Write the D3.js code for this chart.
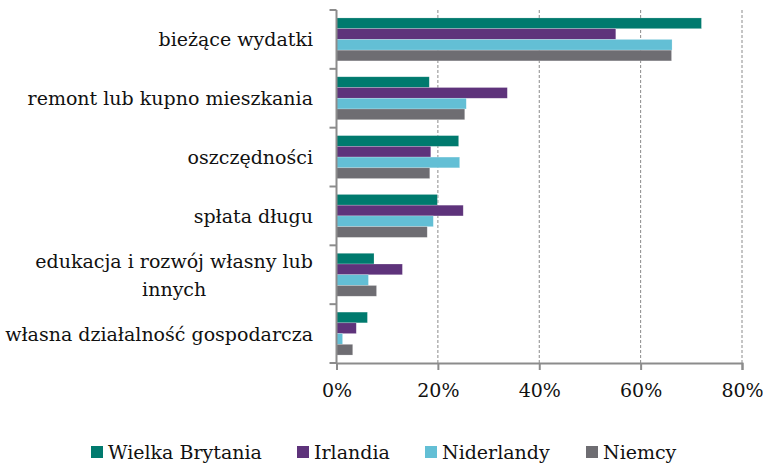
<!DOCTYPE html>
<html>
<head>
<meta charset="utf-8">
<script src="https://cdn.jsdelivr.net/npm/d3@7"></script>
<style>
  body { margin: 0; background: #fff; }
  text { font-family: "DejaVu Serif", "Liberation Serif", serif; fill: #111; }
</style>
</head>
<body>
<script>
// categories, top to bottom
var categories = [
  ["bieżące wydatki"],
  ["remont lub kupno mieszkania"],
  ["oszczędności"],
  ["spłata długu"],
  ["edukacja i rozwój własny lub", "innych"],
  ["własna działalność gospodarcza"]
];
var series = ["Wielka Brytania", "Irlandia", "Niderlandy", "Niemcy"];
var colors = ["#007a6e", "#5e337b", "#63bfd5", "#6e6d72"];

// percent values per series, same order as categories
var wielkaBrytania = [72.0, 18.3, 24.1, 19.9, 7.4, 6.1];
var irlandia       = [55.1, 33.7, 18.6, 25.0, 13.0, 3.9];
var niderlandy     = [66.2, 25.6, 24.3, 19.1, 6.3, 1.2];
var niemcy         = [66.1, 25.3, 18.4, 17.9, 7.9, 3.2];
var values = [wielkaBrytania, irlandia, niderlandy, niemcy];

var xTicks = [0, 20, 40, 60, 80];

var W = 763, H = 465;
var fs = 19;
var svg = d3.select("body").append("svg").attr("width", W).attr("height", H);

var x = d3.scaleLinear().domain([0, 80]).range([336.5, 742]);
var y = d3.scaleBand().domain(d3.range(categories.length)).range([10, 363])
  .paddingInner(0.27).paddingOuter(0.135);
var yOuter = d3.scaleBand().domain(d3.range(categories.length)).range([10, 363]);
var ySub = d3.scaleBand().domain(d3.range(series.length)).range([0, y.bandwidth()]);

// dashed gridlines
svg.append("g").selectAll("line")
  .data(xTicks.filter(function(d) { return d > 0; }))
  .enter().append("line")
  .attr("x1", function(d) { return x(d); })
  .attr("x2", function(d) { return x(d); })
  .attr("y1", 10).attr("y2", 363)
  .attr("stroke", "#8a8a8a")
  .attr("stroke-width", 1)
  .attr("stroke-dasharray", "3,2");

// bars
var group = svg.append("g").selectAll("g.cat")
  .data(categories)
  .enter().append("g")
  .attr("class", "cat")
  .attr("transform", function(d, i) { return "translate(0," + y(i) + ")"; });

group.selectAll("rect")
  .data(function(d, i) { return values.map(function(v, s) { return { s: s, v: v[i] }; }); })
  .enter().append("rect")
  .attr("x", x(0))
  .attr("y", function(d) { return ySub(d.s); })
  .attr("width", function(d) { return x(d.v) - x(0); })
  .attr("height", ySub.bandwidth())
  .attr("fill", function(d) { return colors[d.s]; })
  .attr("stroke", "#fff")
  .attr("stroke-opacity", 0.35)
  .attr("stroke-width", 0.6);

// left axis with ticks at category boundaries
var axisColor = "#8c8c8c";
svg.append("line")
  .attr("x1", x(0)).attr("x2", x(0)).attr("y1", 10).attr("y2", 363)
  .attr("stroke", axisColor).attr("stroke-width", 2);
svg.append("g").selectAll("line")
  .data(d3.range(categories.length + 1))
  .enter().append("line")
  .attr("x1", x(0) - 7).attr("x2", x(0))
  .attr("y1", function(i) { return i < categories.length ? yOuter(i) : 363; })
  .attr("y2", function(i) { return i < categories.length ? yOuter(i) : 363; })
  .attr("stroke", axisColor).attr("stroke-width", 2);

// bottom axis
var xAxis = svg.append("g")
  .attr("transform", "translate(0,363)")
  .call(d3.axisBottom(x).tickValues(xTicks).tickSize(7).tickPadding(14)
    .tickFormat(function(d) { return d + "%"; }));
xAxis.select(".domain").attr("stroke", axisColor).attr("stroke-width", 2);
xAxis.selectAll(".tick line").attr("stroke", axisColor).attr("stroke-width", 2);
xAxis.selectAll(".tick text")
  .style("font-family", "'DejaVu Serif', serif")
  .style("font-size", fs + "px").attr("fill", "#111");

// category labels
var labelX = 313;
svg.append("g").selectAll("text")
  .data(categories)
  .enter().append("text")
  .attr("font-size", fs)
  .attr("text-anchor", "end")
  .each(function(lines, i) {
    var t = d3.select(this);
    var cy = yOuter(i) + yOuter.bandwidth() / 2;
    var lh = 28;
    var y0 = cy + 7 - (lines.length - 1) * lh / 2;
    t.attr("x", labelX).attr("y", y0).text(lines[0]);
    if (lines.length > 1) {
      var w = this.getComputedTextLength();
      svg.append("text").attr("font-size", fs).attr("text-anchor", "middle")
        .attr("x", labelX - w / 2).attr("y", y0 + lh).text(lines[1]);
    }
  });

// legend
var legendX = [91, 297, 425, 586];
var legend = svg.append("g").selectAll("g")
  .data(series)
  .enter().append("g")
  .attr("transform", function(d, i) { return "translate(" + legendX[i] + ",446)"; });
legend.append("rect").attr("width", 12).attr("height", 12)
  .attr("fill", function(d, i) { return colors[i]; });
legend.append("text").attr("x", 17).attr("y", 13).attr("font-size", fs)
  .text(function(d) { return d; });
</script>
</body>
</html>
